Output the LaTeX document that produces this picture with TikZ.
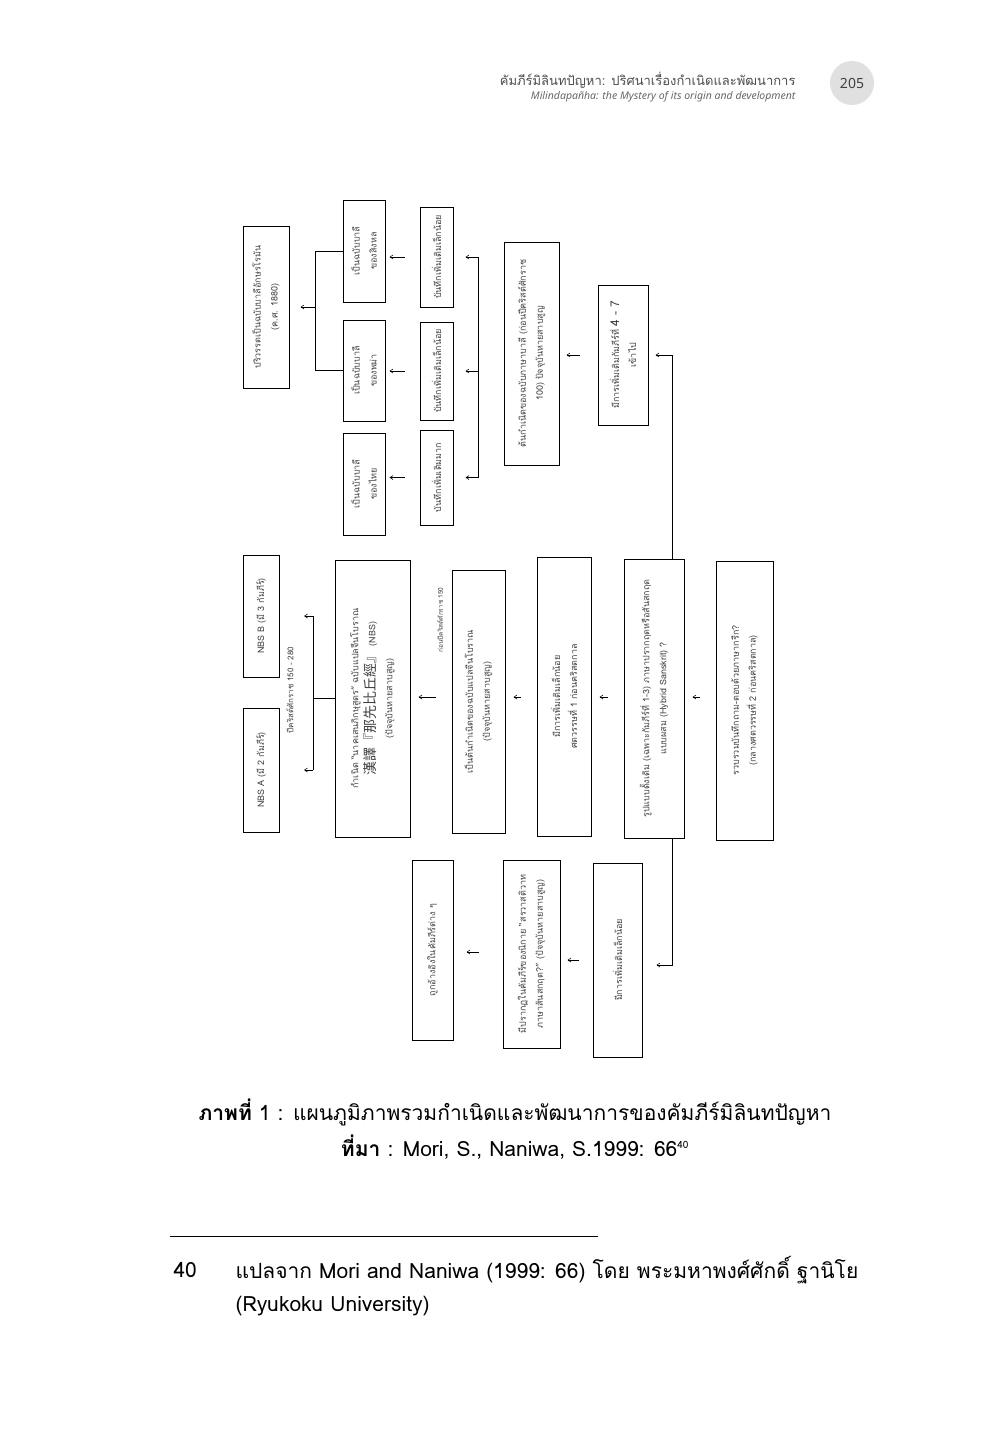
\documentclass[tikz,border=0pt]{standalone}
\usepackage{fontspec}
\setmainfont[Script=Thai]{Loma}
\newfontfamily\latinfont{Noto Sans}
\newfontfamily\cjkfont{Noto Sans CJK TC}
\usetikzlibrary{calc,arrows.meta}
\begin{document}
\begin{tikzpicture}[x=1pt,y=-1pt,
  bx/.style={draw, line width=1pt, rotate=90, align=center, inner sep=0pt, font=\fontsize{9}{17}\selectfont, text=black!75},
  arr/.style={-{Straight Barb[length=3pt,width=4pt]}, line width=0.6pt},
  ln/.style={line width=0.8pt},
  lbl/.style={rotate=90, font=\fontsize{8}{9}\selectfont, text=black!75}]
\useasboundingbox (0,0) rectangle (1000,1429);
% header
\node[anchor=east, font=\fontsize{13}{15}\selectfont, text=black!70] (h1) at (799,80) {คัมภีร์มิลินทปัญหา: ปริศนาเรื่องกำเนิดและพัฒนาการ};
\node[anchor=east, font=\latinfont\itshape\fontsize{10.5}{12}\selectfont, text=black!60] (h2) at (799,97) {Milindapañha: the Mystery of its origin and development};
\fill[black!12] (852,83) circle (22);
\node[font=\latinfont\fontsize{14}{16}\selectfont, text=black!75] (pg) at (852,83) {205};
% top boxes
\node[bx, minimum width=162, minimum height=46] (A1) at (266,307) {ปริวรรตเป็นฉบับบาลีอักษรโรมัน\\(ค.ศ. 1880)};
\node[bx, minimum width=102, minimum height=42] (B1) at (364,251) {เป็นฉบับบาลี\\ของสิงหล};
\node[bx, minimum width=101, minimum height=42] (B2) at (364,370.5) {เป็นฉบับบาลี\\ของพม่า};
\node[bx, minimum width=102, minimum height=42] (B3) at (364,484) {เป็นฉบับบาลี\\ของไทย};
\node[bx, minimum width=100, minimum height=33] (C1) at (436.5,257) {บันทึกเพิ่มเติมเล็กน้อย};
\node[bx, minimum width=98, minimum height=33] (C2) at (436.5,371) {บันทึกเพิ่มเติมเล็กน้อย};
\node[bx, minimum width=95, minimum height=33] (C3) at (436.5,477.5) {บันทึกเพิ่มเติมมาก};
\node[bx, minimum width=223, minimum height=55] (D) at (531.5,353.5) {ต้นกำเนิดของฉบับภาษาบาลี (ก่อนปีคริสต์ศักราช\\100) ปัจจุบันหายสาบสูญ};
\node[bx, minimum width=140, minimum height=50] (E) at (623,355) {มีการเพิ่มเติมกัมภีร์ที่ {\fontsize{12}{12}\selectfont 4 - 7}\\เข้าไป};
% middle
\node[bx, minimum width=122, minimum height=36] (NB) at (261,616) {NBS B (มี 3 กัมภีร์)};
\node[bx, minimum width=124, minimum height=36] (NA) at (261,770) {NBS A (มี 2 กัมภีร์)};
\node[bx, minimum width=277, minimum height=75] (G) at (372.5,698.5) {กำเนิด “นาคเสนภิกษุสูตร” ฉบับแปลจีนโบราณ\\{\cjkfont\fontsize{14}{15}\selectfont 漢譯『那先比丘經』}\ (NBS)\\(ปัจจุบันหายสาบสูญ)};
\node[bx, minimum width=263, minimum height=53] (H) at (478.5,701.5) {เป็นต้นกำเนิดของฉบับแปลจีนโบราณ\\(ปัจจุบันหายสาบสูญ)};
\node[bx, minimum width=279, minimum height=54] (I) at (564,696.5) {มีการเพิ่มเติมเล็กน้อย\\ศตวรรษที่ 1 ก่อนคริสตกาล};
\node[bx, minimum width=279, minimum height=60] (F) at (654,698.5) {รูปแบบดั้งเดิม (เฉพาะกัมภีร์ที่ 1-3) ภาษาปรากฤตหรือสันสกฤต\\แบบผสม (Hybrid Sanskrit) ?};
\node[bx, minimum width=279, minimum height=57] (J) at (744.5,700.5) {รวบรวมบันทึกถาม-ตอบด้วยภาษากรีก?\\(กลางศตวรรษที่ 2 ก่อนคริสตกาล)};
% bottom
\node[bx, minimum width=180, minimum height=41] (K) at (432.5,950) {ถูกอ้างอิงในคัมภีร์ต่าง ๆ};
\node[bx, minimum width=188, minimum height=57] (L) at (531.5,954) {มีปรากฏในคัมภีร์ของนิกาย “สรวาสติวาท\\ภาษาสันสกฤต?” (ปัจจุบันหายสาบสูญ)};
\node[bx, minimum width=194, minimum height=49] (M) at (617.5,960) {มีการเพิ่มเติมเล็กน้อย};
% labels
\node[lbl] (l1) at (290,690) {ปีคริสต์ศักราช 150 - 280};
\node[lbl, font=\fontsize{6.5}{8}\selectfont] (l2) at (440,620) {ก่อนปีคริสต์ศักราช 150};
% B -> A bracket
\coordinate (bA) at (315,251); \coordinate (bB) at (315,370.5); \coordinate (bM) at (315,307);
\draw[ln] (B1.north) -- (bA) -- (bB) -- (B2.north);
\draw[arr] (bM) -- ($(A1.south)+(11,0)$);
% C -> B
\foreach \c/\b in {C1/B1,C2/B2,C3/B3}{\draw[arr, shorten <=15pt, shorten >=4pt] (\c.north) -- (\b.south |- \c.north);}
% bracket to C
\coordinate (cA) at (478,257); \coordinate (cB) at (478,477.5);
\draw[ln] (cA) -- (cB);
\foreach \c in {C1,C2,C3}{\draw[arr] (478,0 |- \c.south) -- ($(\c.south)+(12,0)$);}
% E -> D
\draw[arr, shorten <=18pt, shorten >=7pt] (E.north) -- (D.south |- E.north);
% F -> E
\draw[ln, arr] ($(F.east)+(18,0)$) |- ($(E.south)+(7,0)$);
% F -> M
\draw[ln, arr] ($(F.west)+(18,0)$) |- ($(M.south)+(14,5)$);
% G -> NBS bracket
\coordinate (gM) at (313,698.5);
\draw[ln] (G.north) -- (gM);
\draw[ln] (313,616) -- (313,770);
\draw[arr] (313,616) -- (304,616);
\draw[arr] (313,770) -- (304,770);
% chain arrows middle
\foreach \s/\t in {H/G,I/H,F/I,J/F}{\draw[arr, shorten <=16pt, shorten >=8pt] (\s.north |- 0,697) -- (\t.south |- 0,697);}
% bottom arrows
\draw[arr, shorten <=24pt, shorten >=13pt] (L.north |- 0,952) -- (K.south |- 0,952);
\draw[arr, shorten <=14pt, shorten >=7pt] (M.north |- 0,960) -- (L.south |- 0,960);
% caption
\node[font=\fontsize{21}{24}\selectfont] (cap1) at (515,1112) {\textbf{ภาพที่} 1 : แผนภูมิภาพรวมกำเนิดและพัฒนาการของคัมภีร์มิลินทปัญหา};
\node[font=\fontsize{21}{24}\selectfont] (cap2) at (515,1147) {\textbf{ที่มา} : Mori, S., Naniwa, S.1999: 66\textsuperscript{\fontsize{10}{10}\selectfont 40}};
\draw[line width=0.7pt] (170,1236) -- (598,1236);
\node[anchor=west, font=\fontsize{21}{24}\selectfont] (fn0) at (170,1270) {40};
\node[anchor=west, font=\fontsize{21}{24}\selectfont] (fn1) at (232,1270) {แปลจาก Mori and Naniwa (1999: 66) โดย พระมหาพงศ์ศักดิ์ ฐานิโย};
\node[anchor=west, font=\fontsize{21}{24}\selectfont] (fn2) at (232,1306) {(Ryukoku University)};
\end{tikzpicture}
\end{document}
